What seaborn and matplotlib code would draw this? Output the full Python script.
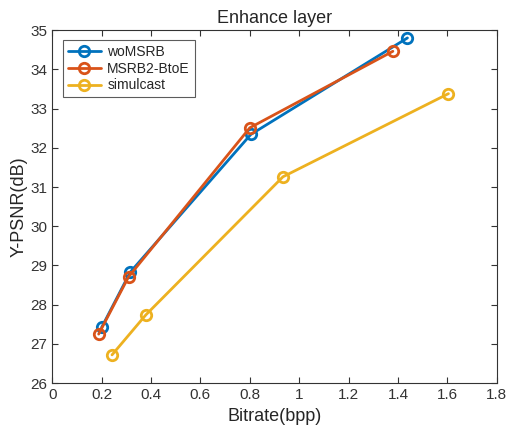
import pandas as pd
import matplotlib.pyplot as plt
import seaborn as sns

# data
methods = ['woMSRB', 'MSRB2-BtoE', 'simulcast']
bitrate_womsrb = [0.20, 0.316, 0.804, 1.438]
psnr_womsrb = [27.42, 28.83, 32.34, 34.80]
bitrate_msrb2 = [0.188, 0.309, 0.80, 1.379]
psnr_msrb2 = [27.25, 28.71, 32.51, 34.46]
bitrate_simul = [0.242, 0.379, 0.934, 1.604]
psnr_simul = [26.72, 27.74, 31.26, 33.38]
colors = ['#0072BD', '#D95319', '#EDB120']

df = pd.concat([
    pd.DataFrame({'Bitrate': bitrate_womsrb, 'PSNR': psnr_womsrb, 'Method': methods[0]}),
    pd.DataFrame({'Bitrate': bitrate_msrb2, 'PSNR': psnr_msrb2, 'Method': methods[1]}),
    pd.DataFrame({'Bitrate': bitrate_simul, 'PSNR': psnr_simul, 'Method': methods[2]}),
], ignore_index=True)

sns.set_style('white')
plt.rcParams['font.family'] = ['Liberation Sans', 'DejaVu Sans']
plt.rcParams['xtick.direction'] = 'in'
plt.rcParams['ytick.direction'] = 'in'

fig = plt.figure(figsize=(5.07, 4.30), dpi=100)
ax = fig.add_axes([0.103, 0.109, 0.877, 0.821])

sns.lineplot(data=df, x='Bitrate', y='PSNR', hue='Method', hue_order=methods,
             palette=colors, marker='o', markersize=7.5, markerfacecolor='none',
             markeredgewidth=2, linewidth=2, sort=False, estimator=None, ax=ax)
# open circles in the series colour
for line, c in zip(ax.get_lines(), colors):
    line.set_markeredgecolor(c)

ax.set_xlim(0, 1.8)
ax.set_ylim(26, 35)
ax.set_xticks([0, 0.2, 0.4, 0.6, 0.8, 1, 1.2, 1.4, 1.6, 1.8])
ax.set_xticklabels(['0', '0.2', '0.4', '0.6', '0.8', '1', '1.2', '1.4', '1.6', '1.8'])
ax.set_yticks(range(26, 36))
ax.tick_params(axis='both', labelsize=11, colors='#333333', length=4, width=0.8,
               top=True, right=True, bottom=True, left=True)
for s in ax.spines.values():
    s.set_color('#333333')
    s.set_linewidth(0.8)

ax.set_title('Enhance layer', fontsize=13, pad=5)
ax.set_xlabel('Bitrate(bpp)', fontsize=13)
ax.set_ylabel('Y-PSNR(dB)', fontsize=13, labelpad=2)

leg = ax.legend(loc='upper left', fontsize=10, frameon=True, fancybox=False,
                borderpad=0.35, labelspacing=0.2, handlelength=2.4,
                handletextpad=0.45, borderaxespad=0, bbox_to_anchor=(0.024, 0.972))
leg.get_frame().set_edgecolor('#333333')
leg.get_frame().set_linewidth(0.8)
for h, c in zip(leg.legend_handles, colors):
    h.set_markerfacecolor('none')
    h.set_markeredgecolor(c)

plt.savefig('out.png', dpi=100)
